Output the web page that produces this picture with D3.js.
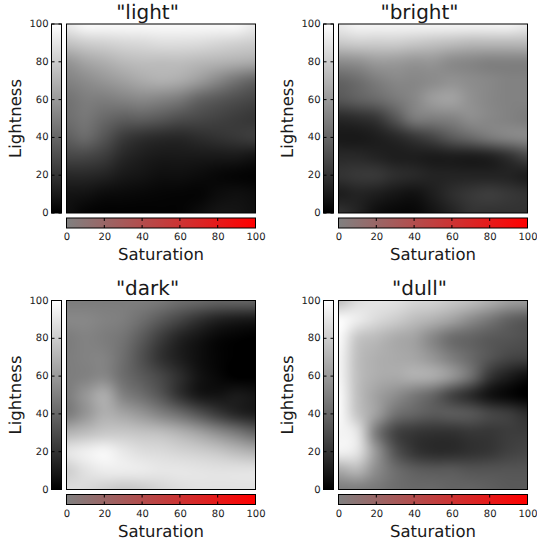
<!DOCTYPE html>
<html>
<head>
<meta charset="utf-8">
<script src="https://cdn.jsdelivr.net/npm/d3@7"></script>
<style>
  html, body { margin: 0; padding: 0; background: #fff; }
  svg { display: block; }
  text { font-family: "DejaVu Sans", sans-serif; fill: #1a1a1a; text-rendering: geometricPrecision; }
</style>
</head>
<body>
<div id="chart"></div>
<script>
const titles = ['"light"', '"bright"', '"dark"', '"dull"']
const satLevels = [0, 10, 20, 30, 40, 50, 60, 70, 80, 90, 100]
const lightLevels = [100, 90, 80, 70, 60, 50, 40, 30, 20, 10, 0]
const tickValues = [0, 20, 40, 60, 80, 100]

// gray level (0-255) per lightness row, saturation left to right
const lightGrid = [
  [235, 250, 250, 250, 250, 250, 250, 250, 250, 250, 235],
  [195, 205, 210, 215, 218, 222, 222, 220, 215, 210, 205],
  [150, 165, 175, 185, 190, 190, 190, 185, 180, 175, 170],
  [130, 140, 150, 160, 170, 175, 170, 155, 135, 115, 100],
  [115, 125, 125, 130, 135, 130, 120, 100, 88, 78, 70],
  [110, 118, 105, 95, 95, 88, 78, 72, 66, 60, 55],
  [95, 105, 85, 60, 48, 42, 40, 45, 50, 55, 60],
  [70, 70, 60, 40, 30, 25, 25, 25, 25, 25, 20],
  [40, 40, 35, 25, 20, 15, 15, 12, 8, 5, 3],
  [20, 18, 12, 10, 8, 6, 5, 5, 12, 15, 12],
  [15, 5, 2, 2, 2, 3, 4, 12, 20, 20, 15]
]
const brightGrid = [
  [235, 245, 245, 245, 245, 245, 245, 245, 245, 245, 235],
  [200, 205, 205, 205, 200, 195, 190, 185, 185, 185, 185],
  [140, 145, 155, 155, 150, 150, 140, 135, 130, 130, 130],
  [100, 110, 125, 135, 135, 140, 145, 140, 135, 130, 130],
  [85, 95, 105, 120, 135, 155, 160, 145, 135, 130, 130],
  [40, 45, 55, 85, 120, 125, 130, 140, 135, 130, 125],
  [25, 25, 30, 40, 55, 70, 90, 105, 120, 130, 135],
  [40, 40, 35, 30, 30, 28, 30, 30, 35, 50, 70],
  [50, 55, 55, 45, 40, 35, 35, 35, 35, 35, 30],
  [30, 35, 30, 22, 18, 30, 45, 55, 60, 55, 50],
  [50, 35, 15, 8, 8, 20, 35, 50, 50, 50, 50]
]
const darkGrid = [
  [125, 125, 125, 125, 125, 120, 110, 105, 100, 100, 100],
  [135, 135, 130, 125, 110, 90, 70, 50, 35, 28, 25],
  [125, 130, 125, 115, 90, 60, 35, 20, 8, 3, 0],
  [125, 130, 130, 110, 80, 50, 30, 15, 5, 0, 0],
  [125, 130, 135, 110, 90, 70, 45, 20, 8, 0, 0],
  [125, 150, 170, 130, 110, 85, 50, 25, 20, 25, 20],
  [125, 150, 175, 165, 150, 130, 110, 85, 60, 40, 30],
  [180, 190, 200, 200, 195, 190, 178, 162, 142, 122, 102],
  [228, 238, 245, 232, 222, 218, 212, 206, 198, 186, 176],
  [208, 226, 236, 236, 234, 230, 230, 228, 226, 226, 226],
  [222, 218, 208, 200, 204, 214, 222, 226, 226, 226, 226]
]
const dullGrid = [
  [190, 220, 228, 225, 215, 210, 200, 190, 175, 160, 155],
  [250, 235, 218, 205, 190, 178, 162, 140, 120, 100, 90],
  [250, 200, 186, 172, 162, 135, 110, 100, 90, 85, 80],
  [245, 192, 176, 170, 165, 148, 125, 105, 85, 70, 65],
  [245, 192, 174, 170, 175, 170, 148, 110, 55, 30, 15],
  [250, 192, 162, 142, 122, 102, 70, 45, 20, 8, 0],
  [250, 198, 158, 115, 100, 90, 90, 85, 70, 60, 45],
  [245, 225, 125, 70, 55, 50, 50, 55, 55, 60, 60],
  [240, 225, 150, 85, 55, 45, 45, 50, 55, 65, 70],
  [170, 180, 140, 110, 95, 90, 90, 85, 85, 85, 85],
  [125, 125, 120, 110, 105, 105, 100, 100, 95, 90, 90]
]
const grids = [lightGrid, brightGrid, darkGrid, dullGrid]

const width = 537
const height = 544
const panelSize = 189
const barSize = 10
const panelX = [66.5, 338.5]
const panelY = [24, 300.5]

const svg = d3.select('#chart')
              .append('svg')
              .attr('width', width)
              .attr('height', height)

const defs = svg.append('defs')

const grayBar = defs.append('linearGradient')
                    .attr('id', 'gray-bar')
                    .attr('x1', 0).attr('y1', 1).attr('x2', 0).attr('y2', 0)
grayBar.append('stop').attr('offset', 0).attr('stop-color', '#000')
grayBar.append('stop').attr('offset', 1).attr('stop-color', '#fff')

const redBar = defs.append('linearGradient').attr('id', 'red-bar')
redBar.append('stop').attr('offset', 0).attr('stop-color', '#808080')
redBar.append('stop').attr('offset', 1).attr('stop-color', '#ff0000')

const x = d3.scaleLinear().domain([0, 100]).range([0, panelSize])
const y = d3.scaleLinear().domain([0, 100]).range([panelSize, 0])
const gray = d3.scaleLinear().domain([0, 255]).range(['#000', '#fff']).clamp(true)

const satIndex = d3.scaleLinear().domain(d3.extent(satLevels)).range([0, satLevels.length - 1])
const lightIndex = d3.scaleLinear().domain(d3.extent(lightLevels)).range([lightLevels.length - 1, 0])

function cubic(p0, p1, p2, p3, t) {
  return p1 + 0.5 * t * (p2 - p0 + t * (2 * p0 - 5 * p1 + 4 * p2 - p3 + t * (3 * (p1 - p2) + p3 - p0)))
}

// smooth lookup between grid values, same idea as imshow with bicubic interpolation
function sample(grid, sat, light) {
  const cx = satIndex(sat)
  const cy = lightIndex(light)
  const ix = Math.min(Math.floor(cx), satLevels.length - 2)
  const iy = Math.min(Math.floor(cy), lightLevels.length - 2)
  const rows = [-1, 0, 1, 2].map(dy => {
    const row = grid[Math.max(0, Math.min(lightLevels.length - 1, iy + dy))]
    const at = i => row[Math.max(0, Math.min(satLevels.length - 1, i))]
    return cubic(at(ix - 1), at(ix), at(ix + 1), at(ix + 2), cx - ix)
  })
  return cubic(rows[0], rows[1], rows[2], rows[3], cy - iy)
}

function heatmapUrl(grid) {
  const canvas = document.createElement('canvas')
  canvas.width = panelSize
  canvas.height = panelSize
  const ctx = canvas.getContext('2d')
  const img = ctx.createImageData(panelSize, panelSize)
  for (let py = 0; py < panelSize; py++) {
    for (let px = 0; px < panelSize; px++) {
      const c = d3.rgb(gray(sample(grid, x.invert(px + 0.5), y.invert(py + 0.5))))
      const k = (py * panelSize + px) * 4
      img.data[k] = c.r
      img.data[k + 1] = c.g
      img.data[k + 2] = c.b
      img.data[k + 3] = 255
    }
  }
  ctx.putImageData(img, 0, 0)
  return canvas.toDataURL()
}

function drawPanel(i) {
  const left = panelX[i % 2]
  const top = panelY[Math.floor(i / 2)]
  const g = svg.append('g').attr('transform', `translate(${left}, ${top})`)

  g.append('image')
   .attr('width', panelSize)
   .attr('height', panelSize)
   .attr('href', heatmapUrl(grids[i]))

  g.append('rect')
   .attr('width', panelSize)
   .attr('height', panelSize)
   .attr('fill', 'none')
   .attr('stroke', '#000')

  g.append('text')
   .attr('x', 81)
   .attr('y', -5.5)
   .attr('text-anchor', 'middle')
   .attr('font-size', 20)
   .text(titles[i])

  // left colour bar with the lightness scale
  const leftBar = g.append('g').attr('transform', 'translate(-15, 0)')
  leftBar.append('rect')
         .attr('width', barSize)
         .attr('height', panelSize)
         .attr('fill', 'url(#gray-bar)')
         .attr('stroke', '#000')
  const yAxis = leftBar.append('g')
                       .call(d3.axisLeft(y).tickValues(tickValues).tickSize(0).tickPadding(3))
  yAxis.select('.domain').remove()
  yAxis.selectAll('text').attr('font-size', 10).attr('font-family', null).attr('dy', '0.25em')
  leftBar.selectAll('.lmark')
         .data(tickValues)
         .enter().append('path')
         .attr('class', 'lmark')
         .attr('d', d => `M0,${y(d)}h3M${barSize},${y(d)}h-3`)
         .attr('stroke', '#000')

  g.append('text')
   .attr('transform', `translate(-46, ${panelSize / 2}) rotate(-90)`)
   .attr('text-anchor', 'middle')
   .attr('font-size', 16.5)
   .text('Lightness')

  // bottom colour bar with the saturation scale
  const bottomBar = g.append('g').attr('transform', `translate(0, ${panelSize + 5})`)
  bottomBar.append('rect')
           .attr('width', panelSize)
           .attr('height', barSize)
           .attr('fill', 'url(#red-bar)')
           .attr('stroke', '#000')
  const xAxis = bottomBar.append('g')
                         .attr('transform', `translate(0, ${barSize})`)
                         .call(d3.axisBottom(x).tickValues(tickValues).tickSize(0).tickPadding(5))
  xAxis.select('.domain').remove()
  xAxis.selectAll('text').attr('font-size', 10).attr('font-family', null)
  bottomBar.selectAll('.smark')
           .data(tickValues)
           .enter().append('path')
           .attr('class', 'smark')
           .attr('d', d => `M${x(d)},0v3M${x(d)},${barSize}v-3`)
           .attr('stroke', '#000')

  g.append('text')
   .attr('x', panelSize / 2)
   .attr('y', panelSize + 47)
   .attr('text-anchor', 'middle')
   .attr('font-size', 16.5)
   .text('Saturation')
}

titles.forEach((d, i) => drawPanel(i))
</script>
</body>
</html>
